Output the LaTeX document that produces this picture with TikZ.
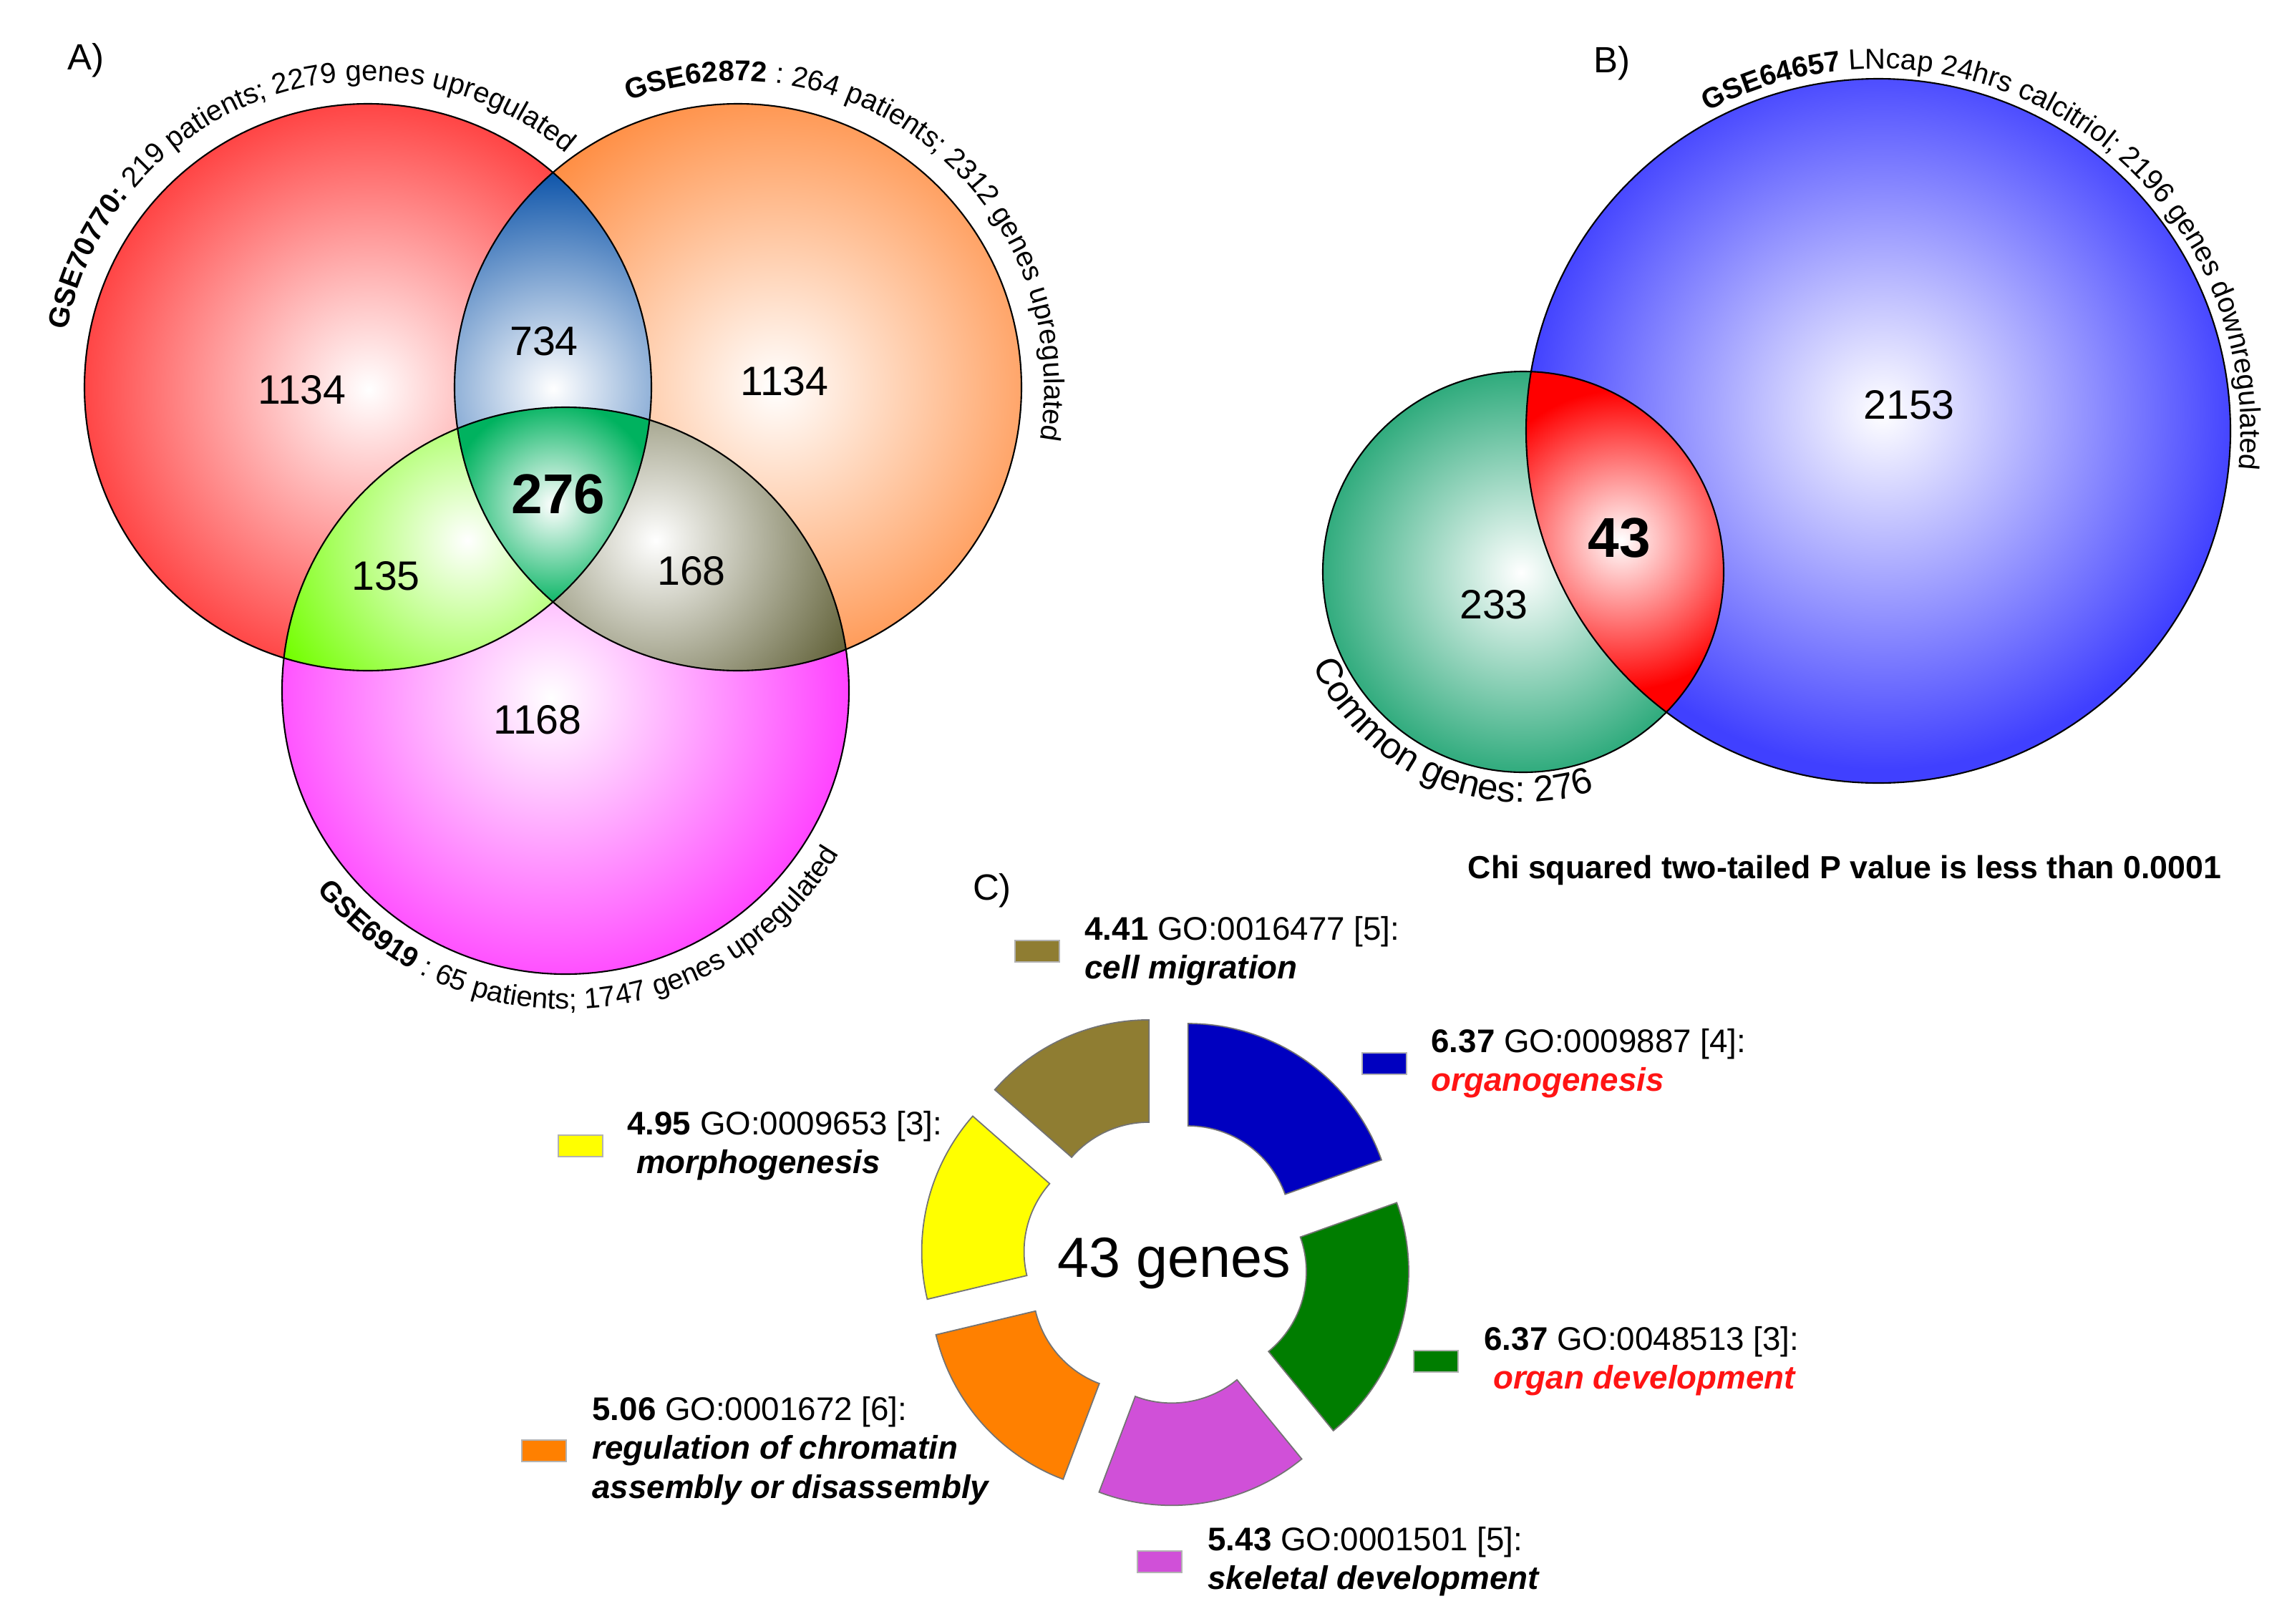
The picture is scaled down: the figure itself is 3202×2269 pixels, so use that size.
\documentclass[tikz,border=0pt]{standalone}
\usepackage{fontspec}
\setmainfont{Liberation Sans}
\usetikzlibrary{positioning,decorations.text}

\definecolor{vred}{RGB}{255,64,64}
\definecolor{vorange}{RGB}{255,140,64}
\definecolor{vmag}{RGB}{255,64,255}
\definecolor{vblue}{RGB}{0,75,165}
\definecolor{vlime}{RGB}{115,255,0}
\definecolor{volive}{RGB}{100,100,60}
\definecolor{vtri}{RGB}{0,178,95}
\definecolor{bblue}{RGB}{64,64,255}
\definecolor{bgreen}{RGB}{40,168,120}
\definecolor{bred}{RGB}{255,0,0}
\definecolor{cmig}{RGB}{143,125,50}
\definecolor{corg}{RGB}{0,0,192}
\definecolor{cmorph}{RGB}{255,255,0}
\definecolor{cdev}{RGB}{0,125,0}
\definecolor{cchrom}{RGB}{255,128,0}
\definecolor{cskel}{RGB}{208,80,216}
\definecolor{gored}{RGB}{255,20,20}

\newcommand{\arcfont}{\fontsize{11.4}{13}\selectfont}
\newcommand{\goterm}[1]{\textbf{\textit{#1}}}

\tikzset
{
    vennline/.style = {draw=black, line width=0.6pt},
    count/.style    = {font=\fontsize{16.3}{19}\selectfont, inner sep=0pt},
    bigcount/.style = {font=\fontsize{22.3}{26}\selectfont\bfseries, inner sep=0pt},
    panel/.style    = {font=\fontsize{14.5}{17}\selectfont, anchor=base, inner sep=0pt},
    seg/.style      = {draw=black!55, line width=0.5pt},
    legsq/.style    = {rectangle, draw=black!30, line width=0.4pt, minimum width=0.62cm, minimum height=0.30cm, inner sep=0pt},
    legtxt/.style   = {font=\fontsize{13}{15.4}\selectfont, align=left, inner sep=0pt}
}

\begin{document}
\begin{tikzpicture}[x=0.01cm, y=0.01cm]
	\useasboundingbox (0,0) rectangle (3202,-2269);

	% A) three data sets
	\coordinate (cRed) at (514,-541);
	\coordinate (cOra) at (1031,-541);
	\coordinate (cMag) at (790,-965);

	\begin{scope}
		\clip (cRed) circle[radius=396];
		\fill [vred] (cRed) circle[radius=400];
		\shade[inner color=white, outer color=vred] (515,-544) circle[radius=410];
	\end{scope}
	\begin{scope}
		\clip (cOra) circle[radius=396];
		\fill [vorange] (cOra) circle[radius=400];
		\shade[inner color=white, outer color=vorange] (1085,-540) circle[radius=440];
	\end{scope}
	\begin{scope}
		\clip (cMag) circle[radius=396];
		\fill [vmag] (cMag) circle[radius=400];
		\shade[inner color=white, outer color=vmag] (770,-975) circle[radius=420];
	\end{scope}
	\begin{scope}
		\clip (cRed) circle[radius=396];
		\clip (cOra) circle[radius=396];
		\fill [vblue] (cRed) circle[radius=400];
		\shade[inner color=white, outer color=vblue] (773,-543) circle[radius=320];
	\end{scope}
	\begin{scope}
		\clip (cRed) circle[radius=396];
		\clip (cMag) circle[radius=396];
		\fill [vlime] (cRed) circle[radius=400];
		\shade[inner color=white, outer color=vlime] (653,-755) circle[radius=300];
	\end{scope}
	\begin{scope}
		\clip (cOra) circle[radius=396];
		\clip (cMag) circle[radius=396];
		\fill [volive] (cOra) circle[radius=400];
		\shade[inner color=white, outer color=volive] (916,-755) circle[radius=300];
	\end{scope}
	\begin{scope}
		\clip (cRed) circle[radius=396];
		\clip (cOra) circle[radius=396];
		\clip (cMag) circle[radius=396];
		\fill [vtri] (cMag) circle[radius=400];
		\shade[inner color=white, outer color=vtri] (773,-705) circle[radius=145];
	\end{scope}
	\draw [vennline] (cRed) circle[radius=396];
	\draw [vennline] (cOra) circle[radius=396];
	\draw [vennline] (cMag) circle[radius=396];

	\path [decorate, decoration={text along path, text align=center,
		text={|\arcfont\bfseries|GSE70770:|\arcfont| 219 patients; 2279 genes upregulated}}]
		(cRed) ++(200:428) arc[start angle=200, end angle=19, radius=428];
	\path [decorate, decoration={text along path, text align=center,
		text={|\arcfont\bfseries|GSE62872|\arcfont| : 264 patients; 2312 genes upregulated}}]
		(cOra) ++(140:428) arc[start angle=140, end angle=-39, radius=428];
	\path [decorate, decoration={text along path, text align=center,
		text={|\arcfont\bfseries|GSE6919|\arcfont| : 65 patients; 1747 genes upregulated}}]
		(cMag) ++(184:445) arc[start angle=184, end angle=364, radius=445];

	\node (lblA) [panel] at (120,-97) {A)};
	\node (nRed) [count] at (422,-545) {1134};
	\node (nRO) [count] at (760,-477) {734};
	\node (nOra) [count] at (1096,-533) {1134};
	\node (nAll) [bigcount] at (780,-690) {276};
	\node (nRM) [count] at (539,-805) {135};
	\node (nOM) [count] at (966,-798) {168};
	\node (nMag) [count] at (751,-1006) {1168};

	% B) common genes against calcitriol set
	\coordinate (cBlu) at (2624,-602);
	\coordinate (cCom) at (2128,-799);

	\begin{scope}
		\clip (cBlu) circle[radius=492];
		\fill [bblue] (cBlu) circle[radius=500];
		\shade[inner color=white, outer color=bblue] (2630,-575) circle[radius=500];
	\end{scope}
	\begin{scope}
		\clip (cCom) circle[radius=280];
		\fill [bgreen] (cCom) circle[radius=290];
		\shade[inner color=white, outer color=bgreen] (2125,-800) circle[radius=290];
	\end{scope}
	\begin{scope}
		\clip (cBlu) circle[radius=492];
		\clip (cCom) circle[radius=280];
		\fill [bred] (cCom) circle[radius=290];
		\shade[inner color=white, outer color=bred] (2265,-755) circle[radius=210];
	\end{scope}
	\draw [vennline] (cBlu) circle[radius=492];
	\draw [vennline] (cCom) circle[radius=280];

	\path [decorate, decoration={text along path, text align=center,
		text={|\arcfont\bfseries|GSE64657|\arcfont| LNcap 24hrs calcitriol; 2196 genes downregulated}}]
		(cBlu) ++(146:506) arc[start angle=146, end angle=-34, radius=506];
	\path [decorate, decoration={text along path, text align=center,
		text={|\fontsize{14.5}{17}\selectfont|Common genes: 276}}]
		(cCom) ++(156:322) arc[start angle=156, end angle=336, radius=322];

	\node (lblB) [panel] at (2252,-101) {B)};
	\node (nBlu) [count] at (2667,-566) {2153};
	\node (nBC) [bigcount] at (2262,-752) {43};
	\node (nCom) [count] at (2087,-845) {233};
	\node (chi) [font=\fontsize{12.7}{15}\selectfont\bfseries, anchor=base, inner sep=0pt] at (2577,-1227) {Chi squared two-tailed P value is less than 0.0001};

	% C) GO terms of the 43 genes
	\node (lblC) [panel] at (1386,-1257) {C)};
	\begin{scope}[shift={(1628,-1762)}]
		\draw [seg, fill=corg, shift={(54.82:55)}] (90:287) arc[start angle=90, end angle=19.64, radius=287] -- (19.64:144) arc[start angle=19.64, end angle=90, radius=144] -- cycle;
		\draw [seg, fill=cdev, shift={(-15.54:55)}] (19.64:287) arc[start angle=19.64, end angle=-50.72, radius=287] -- (-50.72:144) arc[start angle=-50.72, end angle=19.64, radius=144] -- cycle;
		\draw [seg, fill=cskel, shift={(-80.71:55)}] (-50.72:287) arc[start angle=-50.72, end angle=-110.70, radius=287] -- (-110.70:144) arc[start angle=-110.70, end angle=-50.72, radius=144] -- cycle;
		\draw [seg, fill=cchrom, shift={(-138.65:55)}] (-110.70:287) arc[start angle=-110.70, end angle=-166.60, radius=287] -- (-166.60:144) arc[start angle=-166.60, end angle=-110.70, radius=144] -- cycle;
		\draw [seg, fill=cmorph, shift={(-193.94:55)}] (-166.60:287) arc[start angle=-166.60, end angle=-221.28, radius=287] -- (-221.28:144) arc[start angle=-221.28, end angle=-166.60, radius=144] -- cycle;
		\draw [seg, fill=cmig, shift={(-245.64:55)}] (-221.28:287) arc[start angle=-221.28, end angle=-270, radius=287] -- (-270:144) arc[start angle=-270, end angle=-221.28, radius=144] -- cycle;
	\end{scope}
	\node (genes) [font=\fontsize{22.5}{26}\selectfont, anchor=base, inner sep=0pt] at (1640,-1784) {43 genes};

	\node (sqMig) [legsq, fill=cmig] at (1449,-1329) {};
	\node (txMig) [legtxt, right=0.34cm of sqMig] {\textbf{4.41} GO:0016477 [5]:\\\goterm{cell migration}};
	\node (sqOrg) [legsq, fill=corg] at (1934,-1486) {};
	\node (txOrg) [legtxt, right=0.33cm of sqOrg] {\textbf{6.37} GO:0009887 [4]:\\{\color{gored}\goterm{organogenesis}}};
	\node (sqMor) [legsq, fill=cmorph] at (811,-1601) {};
	\node (txMor) [legtxt, right=0.33cm of sqMor] {\textbf{4.95} GO:0009653 [3]:\\\ \goterm{morphogenesis}};
	\node (sqDev) [legsq, fill=cdev] at (2006,-1902) {};
	\node (txDev) [legtxt, right=0.35cm of sqDev] {\textbf{6.37} GO:0048513 [3]:\\\ {\color{gored}\goterm{organ development}}};
	\node (sqChr) [legsq, fill=cchrom] at (760,-2027) {};
	\node (txChr) [legtxt, right=0.35cm of sqChr] {\textbf{5.06} GO:0001672 [6]:\\\goterm{regulation of chromatin}\\\goterm{assembly or disassembly}};
	\node (sqSke) [legsq, fill=cskel] at (1620,-2182) {};
	\node (txSke) [legtxt, right=0.35cm of sqSke] {\textbf{5.43} GO:0001501 [5]:\\\goterm{skeletal development}};
\end{tikzpicture}
\end{document}
